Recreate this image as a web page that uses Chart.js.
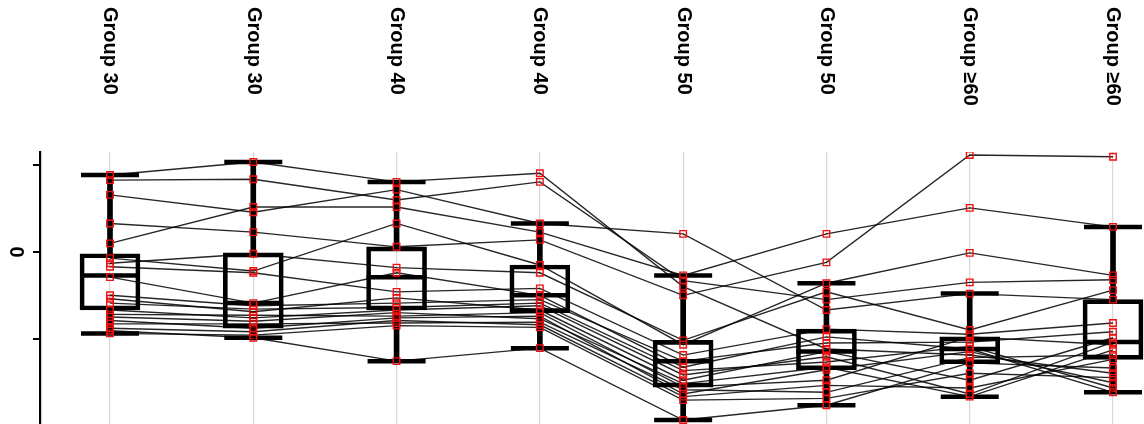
<!DOCTYPE html>
<html><head><meta charset="utf-8">
<script src="https://cdn.jsdelivr.net/npm/chart.js@4/dist/chart.umd.min.js"></script>
<style>html,body{margin:0;padding:0;background:#fff;overflow:hidden}canvas{display:block}</style>
</head><body><canvas id="c" width="1144" height="424" style="width:1144px;height:424px"></canvas>
<script>
const categories = ['Group 30','Group 30','Group 40','Group 40','Group 50','Group 50','Group ≥60','Group ≥60'];
const yTickValues = [-1, 0, 1];
const yTickLabels = ['', '0', ''];

const whiskerHigh = [0.89, 1.04, 0.81, 0.33, -0.27, -0.36, -0.48, 0.29];
const q3          = [-0.02, -0.01, 0.06, -0.15, -1.02, -0.89, -0.98, -0.55];
const median      = [-0.27, -0.59, -0.29, -0.50, -1.26, -1.15, -1.12, -1.04];
const q1          = [-0.67, -0.88, -0.67, -0.70, -1.56, -1.36, -1.29, -1.24];
const whiskerLow  = [-0.94, -0.99, -1.26, -1.11, -1.94, -1.77, -1.67, -1.62];

const subjects = [
  [0.89, 1.04, 0.81, 0.91, -0.40, -1.12, -1.19, -1.40],
  [0.83, 0.84, 0.60, 0.81, -0.33, -0.55, -0.35, -0.32],
  [0.66, 0.46, 0.72, 0.33, 0.21, -0.67, -0.48, -0.55],
  [0.33, 0.23, 0.06, 0.14, -0.50, -0.12, 1.12, 1.10],
  [0.10, 0.52, 0.52, 0.23, -0.27, 0.21, 0.51, 0.29],
  [-0.07, -0.22, 0.33, -0.15, -1.07, -0.36, -0.01, -0.27],
  [-0.13, -0.02, -0.18, -0.24, -1.02, -0.46, -0.90, -0.44],
  [-0.17, -0.24, -0.46, -0.42, -1.19, -0.89, -0.95, -0.82],
  [-0.29, -0.59, -0.24, -0.50, -1.33, -0.98, -1.12, -1.62],
  [-0.50, -0.62, -0.59, -0.55, -1.26, -1.05, -1.04, -0.92],
  [-0.54, -0.69, -0.53, -0.67, -1.48, -1.15, -1.48, -0.99],
  [-0.59, -0.66, -0.64, -0.59, -1.37, -1.27, -1.09, -1.57],
  [-0.67, -0.76, -0.67, -0.62, -1.42, -1.21, -1.64, -1.04],
  [-0.72, -0.73, -0.74, -0.70, -1.56, -1.48, -0.98, -1.07],
  [-0.75, -0.80, -0.70, -0.77, -1.52, -1.33, -1.67, -1.13],
  [-0.79, -0.88, -0.76, -0.74, -1.64, -1.36, -1.15, -1.51],
  [-0.83, -0.83, -0.82, -0.81, -1.59, -1.62, -1.22, -1.19],
  [-0.88, -0.92, -0.79, -0.84, -1.67, -1.54, -1.57, -1.24],
  [-0.91, -0.99, -1.26, -1.11, -1.94, -1.77, -1.28, -1.34],
  [-0.94, -0.96, -0.85, -0.87, -1.71, -1.69, -1.40, -1.45]
];

const pos = categories.map((_, i) => i + 1);

const datasets = [];
datasets.push({type:'bar', order:5, grouped:false, barThickness:60,
  data: pos.map((x,i)=>({x, y:[q1[i], q3[i]]})),
  backgroundColor:'rgba(0,0,0,0)', borderColor:'#000', borderWidth:4, borderSkipped:false});
datasets.push({type:'bar', order:5, grouped:false, barThickness:5,
  data: pos.map((x,i)=>({x, y:[q3[i], whiskerHigh[i]]})), backgroundColor:'#000', borderWidth:0});
datasets.push({type:'bar', order:5, grouped:false, barThickness:5,
  data: pos.map((x,i)=>({x, y:[whiskerLow[i], q1[i]]})), backgroundColor:'#000', borderWidth:0});
datasets.push({type:'scatter', order:4, pointStyle:'line', pointRadius:29, pointBorderWidth:4.5, borderColor:'#000',
  data: pos.map((x,i)=>({x, y:whiskerHigh[i]})).concat(pos.map((x,i)=>({x, y:whiskerLow[i]})))});
datasets.push({type:'scatter', order:4, pointStyle:'line', pointRadius:30, pointBorderWidth:4.5, borderColor:'#000',
  data: pos.map((x,i)=>({x, y:median[i]}))});
subjects.forEach(s => datasets.push({type:'line', order:0,
  data: pos.map((x,i)=>({x, y:s[i]})),
  borderColor:'rgba(0,0,0,0.85)', borderWidth:1.4, tension:0,
  pointStyle:'rect', pointRadius:4.6, pointBorderColor:'#f01010', pointBorderWidth:1.4,
  pointBackgroundColor:'rgba(0,0,0,0)', fill:false}));

const labelPlugin = {
  id:'labels',
  afterDraw(chart){
    const ctx = chart.ctx, xs = chart.scales.x, ys = chart.scales.y;
    ctx.save();
    ctx.fillStyle = '#000';
    ctx.font = 'bold 20px "Liberation Sans", Arial, sans-serif';
    ctx.textBaseline = 'middle';
    categories.forEach((c,i)=>{
      ctx.save();
      ctx.translate(xs.getPixelForValue(pos[i]), 7);
      ctx.rotate(Math.PI/2);
      ctx.textAlign = 'left';
      ctx.fillText(c, 0, 0);
      ctx.restore();
    });
    yTickValues.forEach((v,i)=>{
      if (!yTickLabels[i]) return;
      ctx.save();
      ctx.translate(16, ys.getPixelForValue(v));
      ctx.rotate(Math.PI/2);
      ctx.textAlign = 'center';
      ctx.fillText(yTickLabels[i], 0, 0);
      ctx.restore();
    });
    ctx.restore();
  }
};

new Chart(document.getElementById('c'), {
  type:'scatter',
  data:{datasets},
  options:{
    responsive:false, animation:false, devicePixelRatio:1,
    layout:{padding:0, autoPadding:false},
    plugins:{legend:{display:false}, tooltip:{enabled:false}},
    scales:{
      x:{type:'linear', position:'top', min:0.5115, max:8.2163, offset:false,
        afterBuildTicks:s=>{ s.ticks = pos.map(v=>({value:v})); },
        afterFit:s=>{ s.height = 152; },
        ticks:{display:false},
        grid:{color:'#d8d8d8', lineWidth:1.2, drawTicks:false, offset:false},
        border:{display:false}},
      y:{type:'linear', position:'left', min:-1.986, max:1.155,
        afterBuildTicks:s=>{ s.ticks = yTickValues.map(v=>({value:v})); },
        afterFit:s=>{ s.width = 40; s.paddingTop = 0; s.paddingBottom = 0; },
        ticks:{display:false},
        grid:{drawOnChartArea:false, drawTicks:true, tickLength:7, color:'#000', lineWidth:2},
        border:{display:true, color:'#000', width:2.2}}
    }
  },
  plugins:[labelPlugin]
});
</script></body></html>
